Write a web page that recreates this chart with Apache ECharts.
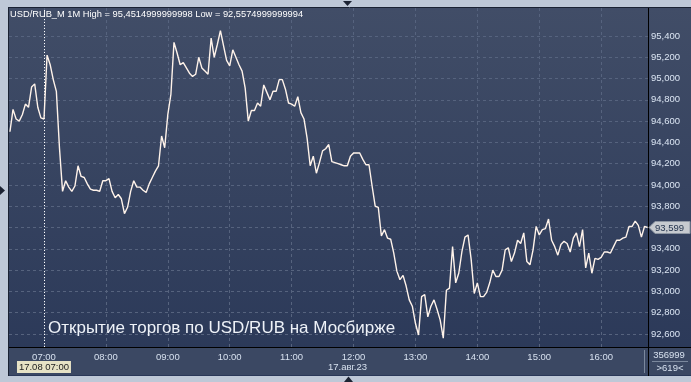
<!DOCTYPE html>
<html>
<head>
<meta charset="utf-8">
<script src="https://cdn.jsdelivr.net/npm/echarts@6.0.0/dist/echarts.min.js"></script>
<style>
html,body{margin:0;padding:0;background:#bec8d7;}
#c{width:691px;height:382px;}
</style>
</head>
<body>
<div id="c"></div>
<script>
// ---- data ----
const startMinute = 387;   // 06:27, minutes since midnight
const stepMinutes = 3;
const prices = [
94.50,94.71,94.62,94.60,94.66,94.76,94.73,94.92,94.95,94.73,
94.63,94.62,95.22,95.13,94.99,94.88,94.35,93.94,94.04,93.98,
93.94,93.99,94.18,94.08,94.07,94.01,93.96,93.95,93.95,93.94,
94.04,94.04,94.06,93.94,93.88,93.91,93.87,93.73,93.79,93.94,
94.04,93.98,93.98,93.95,93.93,94.01,94.07,94.13,94.18,94.46,
94.35,94.66,94.85,95.34,95.24,95.13,95.15,95.10,95.05,95.02,
95.04,95.20,95.10,95.07,95.04,95.38,95.20,95.32,95.45,95.31,
95.17,95.12,95.27,95.20,95.13,95.07,94.91,94.60,94.70,94.70,
94.77,94.74,94.94,94.87,94.80,94.88,94.88,94.99,94.99,94.90,
94.77,94.76,94.74,94.83,94.68,94.62,94.44,94.18,94.27,94.11,
94.21,94.32,94.34,94.38,94.22,94.21,94.20,94.19,94.18,94.18,
94.27,94.30,94.30,94.30,94.24,94.19,94.19,93.99,93.80,93.79,
93.52,93.58,93.50,93.49,93.36,93.19,93.11,93.15,93.05,92.92,
92.86,92.70,92.59,92.95,92.97,92.76,92.86,92.92,92.83,92.73,
92.56,93.01,93.03,93.42,93.08,93.17,93.37,93.51,93.53,93.30,
92.98,93.08,92.95,92.95,92.99,93.08,93.20,93.14,93.14,93.20,
93.39,93.41,93.28,93.36,93.48,93.45,93.55,93.28,93.25,93.39,
93.61,93.53,93.58,93.59,93.68,93.48,93.42,93.34,93.44,93.47,
93.45,93.37,93.50,93.55,93.42,93.58,93.22,93.36,93.17,93.31,
93.30,93.32,93.37,93.37,93.36,93.42,93.48,93.48,93.50,93.51,
93.61,93.61,93.66,93.62,93.51,93.61,93.60
];
const hourTicks = [420,480,540,600,660,720,780,840,900,960];
const priceTicks = [92.6,92.8,93.0,93.2,93.4,93.6,93.8,94.0,94.2,94.4,94.6,94.8,95.0,95.2,95.4];
const openMinute = 420;
const lastPriceText = '93,599';
const headerText = 'USD/RUB_M 1M High = 95,4514999999998 Low = 92,5574999999994';
const noteText = 'Открытие торгов по USD/RUB на Мосбирже';
const dateText = '17.авг.23';
const crossDateText = '17.08 07:00';
const volText = '356999';
const countText = '>619<';

const seriesData = prices.map((p, i) => [startMinute + i * stepMinutes, p]);
const pad = n => (n < 10 ? '0' : '') + n;
const fmtMin = m => pad(Math.floor(m / 60)) + ':' + pad(Math.round(m % 60));

const FONT = '"Liberation Sans", Arial, sans-serif';
const SMALL = 9.5;
const chart = echarts.init(document.getElementById('c'), null, {renderer: 'canvas'});

const option = {
  animation: false,
  backgroundColor: '#bec8d7',
  grid: {left: 9, top: 8, width: 639, height: 339, containLabel: false},
  xAxis: {
    type: 'value', min: 386.1, max: 1005.4,
    axisLine: {show: false}, axisTick: {show: false, customValues: hourTicks},
    axisLabel: {customValues: hourTicks, formatter: v => fmtMin(v), color: '#d6e0ee',
      fontSize: SMALL, fontFamily: FONT, margin: 5},
    splitLine: {show: true, lineStyle: {color: '#56637e', type: [3, 3], width: 1}}
  },
  yAxis: {
    type: 'value', position: 'right', min: 92.477, max: 95.663,
    axisLine: {show: false}, axisTick: {show: false, customValues: priceTicks},
    axisLabel: {customValues: priceTicks, formatter: v => v.toFixed(3).replace('.', ','),
      color: '#dbe5f3', fontSize: SMALL, fontFamily: FONT, margin: 3},
    splitLine: {show: true, lineStyle: {color: '#56637e', type: [3, 3], width: 1}}
  },
  series: [{
    type: 'line', data: seriesData, showSymbol: false, symbol: 'none',
    lineStyle: {color: '#fff3ea', width: 1.4}, z: 5,
    markLine: {
      silent: true, symbol: 'none', label: {show: false},
      lineStyle: {color: '#ffffff', type: [1, 2], width: 1},
      data: [{xAxis: openMinute}]
    }
  }]
};
chart.setOption(option);

const lastY = chart.convertToPixel({gridIndex: 0}, [startMinute, prices[prices.length - 1]])[1];
const openX = chart.convertToPixel({gridIndex: 0}, [openMinute, 93])[0];
const noonX = chart.convertToPixel({gridIndex: 0}, [720, 93])[0];

chart.setOption({
  graphic: [
    {type: 'rect', z: -10, silent: true, shape: {x: 9, y: 8, width: 682, height: 368},
      style: {fill: new echarts.graphic.LinearGradient(0, 0, 0, 1, [
        {offset: 0, color: '#414d67'}, {offset: 1, color: '#2a3858'}])}},
    {type: 'rect', z: -9, silent: true, shape: {x: 9, y: 348, width: 682, height: 27},
      style: {fill: '#3b4863'}},
    {type: 'line', z: 20, silent: true, shape: {x1: 8.5, y1: 8, x2: 8.5, y2: 376}, style: {stroke: '#1a2233', lineWidth: 1}},
    {type: 'line', z: 20, silent: true, shape: {x1: 8, y1: 7.5, x2: 691, y2: 7.5}, style: {stroke: '#1a2233', lineWidth: 1}},
    {type: 'line', z: 20, silent: true, shape: {x1: 648.5, y1: 8, x2: 648.5, y2: 376}, style: {stroke: '#000000', lineWidth: 1}},
    {type: 'line', z: 20, silent: true, shape: {x1: 9, y1: 347.5, x2: 691, y2: 347.5}, style: {stroke: '#000000', lineWidth: 1}},
    {type: 'line', z: 20, silent: true, shape: {x1: 644.5, y1: 350, x2: 644.5, y2: 373}, style: {stroke: '#7b889d', lineWidth: 1}},
    {type: 'line', z: 20, silent: true, shape: {x1: 652, y1: 361.5, x2: 688, y2: 361.5}, style: {stroke: '#7b889d', lineWidth: 1}},
    {type: 'text', z: 20, silent: true, x: 10, y: 10,
      style: {text: headerText, fill: '#ffffff', font: '9.3px ' + FONT}},
    {type: 'text', z: 20, silent: true, x: 48, y: 328,
      style: {text: noteText, fill: '#eef2f8', font: '17px ' + FONT, verticalAlign: 'middle'}},
    {type: 'text', z: 20, silent: true, x: noonX - 6, y: 367,
      style: {text: dateText, fill: '#d6e0ee', font: SMALL + 'px ' + FONT, align: 'center', verticalAlign: 'middle'}},
    {type: 'rect', z: 20, silent: true, shape: {x: openX - 27, y: 361, width: 54, height: 12},
      style: {fill: '#e6e2c5'}},
    {type: 'text', z: 21, silent: true, x: openX, y: 367.5,
      style: {text: crossDateText, fill: '#222222', font: SMALL + 'px ' + FONT, align: 'center', verticalAlign: 'middle'}},
    {type: 'text', z: 20, silent: true, x: 669, y: 355,
      style: {text: volText, fill: '#d6e0ee', font: SMALL + 'px ' + FONT, align: 'center', verticalAlign: 'middle'}},
    {type: 'text', z: 20, silent: true, x: 670, y: 368,
      style: {text: countText, fill: '#d6e0ee', font: SMALL + 'px ' + FONT, align: 'center', verticalAlign: 'middle'}},
    {type: 'polygon', z: 20, silent: true,
      shape: {points: [[649, lastY], [655, lastY - 6], [690, lastY - 6], [690, lastY + 6], [655, lastY + 6]]},
      style: {fill: '#c6cacf', stroke: '#8d96a3', lineWidth: 1}},
    {type: 'text', z: 21, silent: true, x: 655, y: lastY + 0.5,
      style: {text: lastPriceText, fill: '#24344e', font: SMALL + 'px ' + FONT, verticalAlign: 'middle'}},
    {type: 'polygon', z: 20, silent: true, shape: {points: [[343, 1], [352, 1], [347.5, 6]]}, style: {fill: '#1c2333'}},
    {type: 'polygon', z: 20, silent: true, shape: {points: [[344, 382], [353, 382], [348.5, 376.5]]}, style: {fill: '#1c2333'}},
    {type: 'polygon', z: 20, silent: true, shape: {points: [[0, 186], [0, 195], [5, 190.5]]}, style: {fill: '#1c2333'}}
  ]
});
</script>
</body>
</html>
